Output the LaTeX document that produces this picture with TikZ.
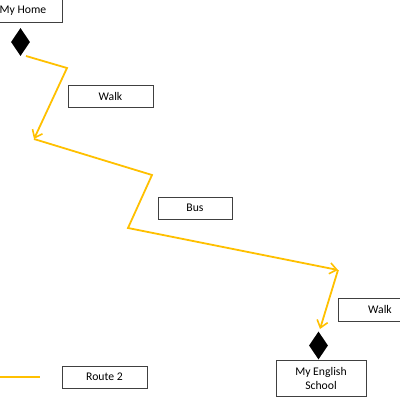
\documentclass[tikz,border=0pt]{standalone}
\usepackage{fontspec}
\setmainfont{Carlito}
\usetikzlibrary{arrows.meta,shapes.geometric}
\definecolor{routeyellow}{HTML}{FFC000}
\definecolor{boxline}{HTML}{404040}
\begin{document}
\begin{tikzpicture}[x=1pt,y=-1pt,
  box/.style={draw=boxline, line width=1pt, fill=white, inner sep=0pt,
    font=\fontsize{11.7}{14}\selectfont, align=center},
  marker/.style={shape=diamond, fill=black, draw=none, inner sep=0pt,
    minimum width=19pt, minimum height=28pt},
  route/.style={draw=routeyellow, line width=1.8pt, line join=miter},
  tip/.style={-{Straight Barb[length=7pt,width=11pt,line width=1.6pt]}}]
\useasboundingbox (0,0) rectangle (400,400);
\clip (0,0) rectangle (400,400);
% boxes
\node[box, minimum width=78pt, minimum height=23pt] (home) at (23,10.5) {My Home};
\node[box, minimum width=85pt, minimum height=22pt] (walk1) at (110.5,96) {Walk};
\node[box, minimum width=74pt, minimum height=22pt] (bus) at (195,208) {Bus};
\node[box, minimum width=84pt, minimum height=23pt] (walk2) at (380,309.5) {Walk};
\node[box, minimum width=90pt, minimum height=36pt] (school) at (321,378) {My English\\School};
\node[box, minimum width=85pt, minimum height=22pt] (route) at (104.5,377) {Route 2};
% markers
\node[marker] (d1) at (20.5,42) {};
\node[marker] (d2) at (318.5,345.5) {};
% route points
\coordinate (s) at (26,56);
\coordinate (b1) at (67,68);
\coordinate (p1) at (34,139);
\coordinate (b2) at (152,175);
\coordinate (b3) at (128,228);
\coordinate (p2) at (338,270);
\coordinate (p3) at (320,329);
\coordinate (la) at (-5,377);
\coordinate (lb) at (40,377);
\draw[route, tip] (s) -- (b1) -- (p1);
\draw[route, tip] (p1) -- (b2) -- (b3) -- (p2);
\draw[route, tip] (p2) -- (p3);
\draw[route] (la) -- (lb);
\end{tikzpicture}
\end{document}
